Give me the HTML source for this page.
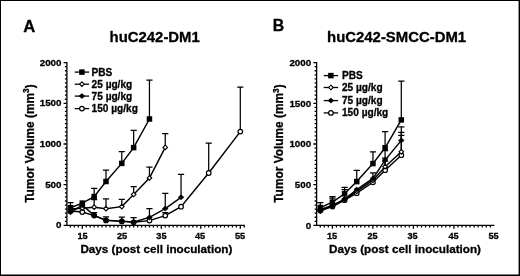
<!DOCTYPE html>
<html><head><meta charset="utf-8"><title>Figure</title>
<style>html,body{margin:0;padding:0;background:#fff;}body{width:520px;height:276px;overflow:hidden}svg{display:block}text{stroke:#000;stroke-width:0.3px;stroke-linejoin:round}</style>
</head><body>
<svg width="520" height="276" viewBox="0 0 520 276" font-family="'Liberation Sans', Arial, sans-serif" font-weight="bold" fill="#000" stroke="none">
<rect x="0" y="0" width="520" height="276" fill="#fff"/>
<path d="M0 0H520V276H0ZM1 1V274.6H518.6V1Z" fill="#000" fill-rule="evenodd"/>
<text x="23.2" y="31.6" font-size="16.6">A</text>
<text x="272.7" y="31.2" font-size="15.8">B</text>
<text x="154.7" y="42" font-size="14.9" text-anchor="middle">huC242-DM1</text>
<text x="396.6" y="42.2" font-size="14.9" text-anchor="middle">huC242-SMCC-DM1</text>
<text transform="translate(33.5 143.5) rotate(-90)" font-size="11.9" text-anchor="middle">Tumor Volume (mm<tspan font-size="8.4" dy="-4.6">3</tspan><tspan dy="4.6">)</tspan></text>
<text transform="translate(283.3 143.5) rotate(-90)" font-size="11.9" text-anchor="middle">Tumor Volume (mm<tspan font-size="8.4" dy="-4.6">3</tspan><tspan dy="4.6">)</tspan></text>
<text x="156.4" y="253.25" font-size="11.7" text-anchor="middle">Days (post cell inoculation)</text>
<text x="405" y="253.25" font-size="11.7" text-anchor="middle">Days (post cell inoculation)</text>
<g>
<path d="M66.9 62V226.05M66.25 225.4H244.9" fill="none" stroke="#000" stroke-width="1.3"/>
<path d="M66.9 225.4h-3.3M66.9 221.33h-2M66.9 217.26h-2M66.9 213.19h-2M66.9 209.12h-2M66.9 205.05h-2M66.9 200.98h-2M66.9 196.91h-2M66.9 192.84h-2M66.9 188.77h-2M66.9 184.7h-3.3M66.9 180.63h-2M66.9 176.56h-2M66.9 172.49h-2M66.9 168.42h-2M66.9 164.35h-2M66.9 160.28h-2M66.9 156.21h-2M66.9 152.14h-2M66.9 148.07h-2M66.9 144h-3.3M66.9 139.93h-2M66.9 135.86h-2M66.9 131.79h-2M66.9 127.72h-2M66.9 123.65h-2M66.9 119.58h-2M66.9 115.51h-2M66.9 111.44h-2M66.9 107.37h-2M66.9 103.3h-3.3M66.9 99.23h-2M66.9 95.16h-2M66.9 91.09h-2M66.9 87.02h-2M66.9 82.95h-2M66.9 78.88h-2M66.9 74.81h-2M66.9 70.74h-2M66.9 66.67h-2M66.9 62.6h-3.3" fill="none" stroke="#000" stroke-width="1.3"/>
<path d="M70.45 225.4v2.1M74.4 225.4v2.1M78.35 225.4v2.1M82.3 225.4v3.3M86.25 225.4v2.1M90.2 225.4v2.1M94.15 225.4v2.1M98.1 225.4v2.1M102.05 225.4v2.1M106 225.4v2.1M109.95 225.4v2.1M113.9 225.4v2.1M117.85 225.4v2.1M121.8 225.4v3.3M125.75 225.4v2.1M129.7 225.4v2.1M133.65 225.4v2.1M137.6 225.4v2.1M141.55 225.4v2.1M145.5 225.4v2.1M149.45 225.4v2.1M153.4 225.4v2.1M157.35 225.4v2.1M161.3 225.4v3.3M165.25 225.4v2.1M169.2 225.4v2.1M173.15 225.4v2.1M177.1 225.4v2.1M181.05 225.4v2.1M185 225.4v2.1M188.95 225.4v2.1M192.9 225.4v2.1M196.85 225.4v2.1M200.8 225.4v3.3M204.75 225.4v2.1M208.7 225.4v2.1M212.65 225.4v2.1M216.6 225.4v2.1M220.55 225.4v2.1M224.5 225.4v2.1M228.45 225.4v2.1M232.4 225.4v2.1M236.35 225.4v2.1M240.3 225.4v3.3M244.25 225.4v2.1" fill="none" stroke="#000" stroke-width="1.3"/>
<text x="61.5" y="228.4" text-anchor="end" font-size="9.8">0</text>
<text x="61.5" y="187.7" text-anchor="end" font-size="9.8">500</text>
<text x="61.5" y="147" text-anchor="end" font-size="9.8">1000</text>
<text x="61.5" y="106.3" text-anchor="end" font-size="9.8">1500</text>
<text x="61.5" y="65.6" text-anchor="end" font-size="9.8">2000</text>
<text x="82.5" y="238.7" text-anchor="middle" font-size="9.2">15</text>
<text x="122" y="238.7" text-anchor="middle" font-size="9.2">25</text>
<text x="161.4" y="238.7" text-anchor="middle" font-size="9.2">35</text>
<text x="200.1" y="238.7" text-anchor="middle" font-size="9.2">45</text>
<text x="240" y="238.7" text-anchor="middle" font-size="9.2">55</text>
<path d="M165.25 215.6V212.6M162.15 212.6H168.35" fill="none" stroke="#000" stroke-width="1.25"/>
<path d="M208.7 173V143M205.6 143H211.8" fill="none" stroke="#000" stroke-width="1.25"/>
<path d="M240.3 131.6V87M237.2 87H243.4" fill="none" stroke="#000" stroke-width="1.25"/>
<path d="M70.45 211L82.3 212L94.15 215.6L106 220.4L121.8 221.4L133.65 222.3L149.45 220.6L165.25 215.6L181.05 206.7L208.7 173L240.3 131.6" fill="none" stroke="#000" stroke-width="1.45"/>
<circle cx="70.45" cy="211" r="2.3" fill="#fff" stroke="#000" stroke-width="1.2"/>
<circle cx="82.3" cy="212" r="2.3" fill="#fff" stroke="#000" stroke-width="1.2"/>
<circle cx="94.15" cy="215.6" r="2.3" fill="#fff" stroke="#000" stroke-width="1.2"/>
<circle cx="106" cy="220.4" r="2.3" fill="#fff" stroke="#000" stroke-width="1.2"/>
<circle cx="121.8" cy="221.4" r="2.3" fill="#fff" stroke="#000" stroke-width="1.2"/>
<circle cx="133.65" cy="222.3" r="2.3" fill="#fff" stroke="#000" stroke-width="1.2"/>
<circle cx="149.45" cy="220.6" r="2.3" fill="#fff" stroke="#000" stroke-width="1.2"/>
<circle cx="165.25" cy="215.6" r="2.3" fill="#fff" stroke="#000" stroke-width="1.2"/>
<circle cx="181.05" cy="206.7" r="2.3" fill="#fff" stroke="#000" stroke-width="1.2"/>
<circle cx="208.7" cy="173" r="2.3" fill="#fff" stroke="#000" stroke-width="1.2"/>
<circle cx="240.3" cy="131.6" r="2.3" fill="#fff" stroke="#000" stroke-width="1.2"/>
<path d="M94.15 207.2V199.5M91.05 199.5H97.25" fill="none" stroke="#000" stroke-width="1.25"/>
<path d="M106 208.7V198.8M102.9 198.8H109.1" fill="none" stroke="#000" stroke-width="1.25"/>
<path d="M121.8 206.6V199.3M118.7 199.3H124.9" fill="none" stroke="#000" stroke-width="1.25"/>
<path d="M133.65 194.5V186.6M130.55 186.6H136.75" fill="none" stroke="#000" stroke-width="1.25"/>
<path d="M149.45 178V167M146.35 167H152.55" fill="none" stroke="#000" stroke-width="1.25"/>
<path d="M165.25 147.4V133.6M162.15 133.6H168.35" fill="none" stroke="#000" stroke-width="1.25"/>
<path d="M70.45 209L82.3 208.2L94.15 207.2L106 208.7L121.8 206.6L133.65 194.5L149.45 178L165.25 147.4" fill="none" stroke="#000" stroke-width="1.45"/>
<path d="M70.45 206.7L72.75 209L70.45 211.3L68.15 209Z" fill="#fff" stroke="#000" stroke-width="1.1"/>
<path d="M82.3 205.9L84.6 208.2L82.3 210.5L80 208.2Z" fill="#fff" stroke="#000" stroke-width="1.1"/>
<path d="M94.15 204.9L96.45 207.2L94.15 209.5L91.85 207.2Z" fill="#fff" stroke="#000" stroke-width="1.1"/>
<path d="M106 206.4L108.3 208.7L106 211L103.7 208.7Z" fill="#fff" stroke="#000" stroke-width="1.1"/>
<path d="M121.8 204.3L124.1 206.6L121.8 208.9L119.5 206.6Z" fill="#fff" stroke="#000" stroke-width="1.1"/>
<path d="M133.65 192.2L135.95 194.5L133.65 196.8L131.35 194.5Z" fill="#fff" stroke="#000" stroke-width="1.1"/>
<path d="M149.45 175.7L151.75 178L149.45 180.3L147.15 178Z" fill="#fff" stroke="#000" stroke-width="1.1"/>
<path d="M165.25 145.1L167.55 147.4L165.25 149.7L162.95 147.4Z" fill="#fff" stroke="#000" stroke-width="1.1"/>
<path d="M94.15 215.3V212.6M91.05 212.6H97.25" fill="none" stroke="#000" stroke-width="1.25"/>
<path d="M106 220.3V216.8M102.9 216.8H109.1" fill="none" stroke="#000" stroke-width="1.25"/>
<path d="M121.8 221.1V217.1M118.7 217.1H124.9" fill="none" stroke="#000" stroke-width="1.25"/>
<path d="M133.65 222V217.6M130.55 217.6H136.75" fill="none" stroke="#000" stroke-width="1.25"/>
<path d="M149.45 217.4V208.7M146.35 208.7H152.55" fill="none" stroke="#000" stroke-width="1.25"/>
<path d="M165.25 208.6V193.3M162.15 193.3H168.35" fill="none" stroke="#000" stroke-width="1.25"/>
<path d="M181.05 197.3V174.3M177.95 174.3H184.15" fill="none" stroke="#000" stroke-width="1.25"/>
<path d="M70.45 212.3L82.3 205.2L94.15 215.3L106 220.3L121.8 221.1L133.65 222L149.45 217.4L165.25 208.6L181.05 197.3" fill="none" stroke="#000" stroke-width="1.45"/>
<path d="M70.45 209.8L73.35 212.3L70.45 214.8L67.55 212.3Z" fill="#000" stroke="#000" stroke-width="0.6"/>
<path d="M82.3 202.7L85.2 205.2L82.3 207.7L79.4 205.2Z" fill="#000" stroke="#000" stroke-width="0.6"/>
<path d="M94.15 212.8L97.05 215.3L94.15 217.8L91.25 215.3Z" fill="#000" stroke="#000" stroke-width="0.6"/>
<path d="M106 217.8L108.9 220.3L106 222.8L103.1 220.3Z" fill="#000" stroke="#000" stroke-width="0.6"/>
<path d="M121.8 218.6L124.7 221.1L121.8 223.6L118.9 221.1Z" fill="#000" stroke="#000" stroke-width="0.6"/>
<path d="M133.65 219.5L136.55 222L133.65 224.5L130.75 222Z" fill="#000" stroke="#000" stroke-width="0.6"/>
<path d="M149.45 214.9L152.35 217.4L149.45 219.9L146.55 217.4Z" fill="#000" stroke="#000" stroke-width="0.6"/>
<path d="M165.25 206.1L168.15 208.6L165.25 211.1L162.35 208.6Z" fill="#000" stroke="#000" stroke-width="0.6"/>
<path d="M181.05 194.8L183.95 197.3L181.05 199.8L178.15 197.3Z" fill="#000" stroke="#000" stroke-width="0.6"/>
<path d="M70.45 207.7V202.5M67.35 202.5H73.55" fill="none" stroke="#000" stroke-width="1.25"/>
<path d="M94.15 196.6V188.4M91.05 188.4H97.25" fill="none" stroke="#000" stroke-width="1.25"/>
<path d="M106 181.5V170M102.9 170H109.1" fill="none" stroke="#000" stroke-width="1.25"/>
<path d="M121.8 163.4V151.6M118.7 151.6H124.9" fill="none" stroke="#000" stroke-width="1.25"/>
<path d="M133.65 147.6V130.4M130.55 130.4H136.75" fill="none" stroke="#000" stroke-width="1.25"/>
<path d="M149.45 119V80M146.35 80H152.55" fill="none" stroke="#000" stroke-width="1.25"/>
<path d="M70.45 207.7L82.3 203.1L94.15 196.6L106 181.5L121.8 163.4L133.65 147.6L149.45 119" fill="none" stroke="#000" stroke-width="1.45"/>
<rect x="67.7" y="204.95" width="5.5" height="5.5" fill="#000"/>
<rect x="79.55" y="200.35" width="5.5" height="5.5" fill="#000"/>
<rect x="91.4" y="193.85" width="5.5" height="5.5" fill="#000"/>
<rect x="103.25" y="178.75" width="5.5" height="5.5" fill="#000"/>
<rect x="119.05" y="160.65" width="5.5" height="5.5" fill="#000"/>
<rect x="130.9" y="144.85" width="5.5" height="5.5" fill="#000"/>
<rect x="146.7" y="116.25" width="5.5" height="5.5" fill="#000"/>
<path d="M74.7 72.1H89.1" stroke="#000" stroke-width="1.3"/>
<rect x="79.15" y="69.35" width="5.5" height="5.5" fill="#000"/>
<text x="91.6" y="75.5" font-size="10.1">PBS</text>
<path d="M74.7 84.2H89.1" stroke="#000" stroke-width="1.3"/>
<path d="M81.9 81.9L84.2 84.2L81.9 86.5L79.6 84.2Z" fill="#fff" stroke="#000" stroke-width="1.1"/>
<text x="91.6" y="87.6" font-size="10.1">25 µg/kg</text>
<path d="M74.7 96.1H89.1" stroke="#000" stroke-width="1.3"/>
<path d="M81.9 93.6L84.8 96.1L81.9 98.6L79 96.1Z" fill="#000" stroke="#000" stroke-width="0.6"/>
<text x="91.6" y="99.5" font-size="10.1">75 µg/kg</text>
<path d="M74.7 108.6H89.1" stroke="#000" stroke-width="1.3"/>
<circle cx="81.9" cy="108.6" r="2.3" fill="#fff" stroke="#000" stroke-width="1.2"/>
<text x="91.6" y="112" font-size="10.1">150 µg/kg</text>
</g>
<g>
<path d="M316.6 62V226.05M315.95 225.4H494.4" fill="none" stroke="#000" stroke-width="1.3"/>
<path d="M316.6 225.4h-3.3M316.6 221.33h-2M316.6 217.26h-2M316.6 213.19h-2M316.6 209.12h-2M316.6 205.05h-2M316.6 200.98h-2M316.6 196.91h-2M316.6 192.84h-2M316.6 188.77h-2M316.6 184.7h-3.3M316.6 180.63h-2M316.6 176.56h-2M316.6 172.49h-2M316.6 168.42h-2M316.6 164.35h-2M316.6 160.28h-2M316.6 156.21h-2M316.6 152.14h-2M316.6 148.07h-2M316.6 144h-3.3M316.6 139.93h-2M316.6 135.86h-2M316.6 131.79h-2M316.6 127.72h-2M316.6 123.65h-2M316.6 119.58h-2M316.6 115.51h-2M316.6 111.44h-2M316.6 107.37h-2M316.6 103.3h-3.3M316.6 99.23h-2M316.6 95.16h-2M316.6 91.09h-2M316.6 87.02h-2M316.6 82.95h-2M316.6 78.88h-2M316.6 74.81h-2M316.6 70.74h-2M316.6 66.67h-2M316.6 62.6h-3.3" fill="none" stroke="#000" stroke-width="1.3"/>
<path d="M320.25 225.4v2.1M324.3 225.4v2.1M328.35 225.4v2.1M332.4 225.4v3.3M336.45 225.4v2.1M340.5 225.4v2.1M344.55 225.4v2.1M348.6 225.4v2.1M352.65 225.4v2.1M356.7 225.4v2.1M360.75 225.4v2.1M364.8 225.4v2.1M368.85 225.4v2.1M372.9 225.4v3.3M376.95 225.4v2.1M381 225.4v2.1M385.05 225.4v2.1M389.1 225.4v2.1M393.15 225.4v2.1M397.2 225.4v2.1M401.25 225.4v2.1M405.3 225.4v2.1M409.35 225.4v2.1M413.4 225.4v3.3M417.45 225.4v2.1M421.5 225.4v2.1M425.55 225.4v2.1M429.6 225.4v2.1M433.65 225.4v2.1M437.7 225.4v2.1M441.75 225.4v2.1M445.8 225.4v2.1M449.85 225.4v2.1M453.9 225.4v3.3M457.95 225.4v2.1M462 225.4v2.1M466.05 225.4v2.1M470.1 225.4v2.1M474.15 225.4v2.1M478.2 225.4v2.1M482.25 225.4v2.1M486.3 225.4v2.1M490.35 225.4v2.1" fill="none" stroke="#000" stroke-width="1.3"/>
<text x="311.2" y="228.6" text-anchor="end" font-size="9.8">0</text>
<text x="311.2" y="187.9" text-anchor="end" font-size="9.8">500</text>
<text x="311.2" y="147.2" text-anchor="end" font-size="9.8">1000</text>
<text x="311.2" y="106.5" text-anchor="end" font-size="9.8">1500</text>
<text x="311.2" y="65.8" text-anchor="end" font-size="9.8">2000</text>
<text x="332" y="238.7" text-anchor="middle" font-size="9.2">15</text>
<text x="372.5" y="238.7" text-anchor="middle" font-size="9.2">25</text>
<text x="412.5" y="238.7" text-anchor="middle" font-size="9.2">35</text>
<text x="453.5" y="238.7" text-anchor="middle" font-size="9.2">45</text>
<text x="493.5" y="238.7" text-anchor="middle" font-size="9.2">55</text>
<path d="M385.1 170.2V161M382 161H388.2" fill="none" stroke="#000" stroke-width="1.25"/>
<path d="M401.3 155.2V135.3M398.2 135.3H404.4" fill="none" stroke="#000" stroke-width="1.25"/>
<path d="M320.3 210.5L332.45 206.6L344.6 200.2L356.75 193.2L372.95 182.3L385.1 170.2L401.3 155.2" fill="none" stroke="#000" stroke-width="1.45"/>
<circle cx="320.3" cy="210.5" r="2.3" fill="#fff" stroke="#000" stroke-width="1.2"/>
<circle cx="332.45" cy="206.6" r="2.3" fill="#fff" stroke="#000" stroke-width="1.2"/>
<circle cx="344.6" cy="200.2" r="2.3" fill="#fff" stroke="#000" stroke-width="1.2"/>
<circle cx="356.75" cy="193.2" r="2.3" fill="#fff" stroke="#000" stroke-width="1.2"/>
<circle cx="372.95" cy="182.3" r="2.3" fill="#fff" stroke="#000" stroke-width="1.2"/>
<circle cx="385.1" cy="170.2" r="2.3" fill="#fff" stroke="#000" stroke-width="1.2"/>
<circle cx="401.3" cy="155.2" r="2.3" fill="#fff" stroke="#000" stroke-width="1.2"/>
<path d="M385.1 166.7V158M382 158H388.2" fill="none" stroke="#000" stroke-width="1.25"/>
<path d="M401.3 151.8V132.3M398.2 132.3H404.4" fill="none" stroke="#000" stroke-width="1.25"/>
<path d="M320.3 209.5L332.45 205.5L344.6 199.5L356.75 191.4L372.95 180.2L385.1 166.7L401.3 151.8" fill="none" stroke="#000" stroke-width="1.45"/>
<path d="M320.3 207.2L322.6 209.5L320.3 211.8L318 209.5Z" fill="#fff" stroke="#000" stroke-width="1.1"/>
<path d="M332.45 203.2L334.75 205.5L332.45 207.8L330.15 205.5Z" fill="#fff" stroke="#000" stroke-width="1.1"/>
<path d="M344.6 197.2L346.9 199.5L344.6 201.8L342.3 199.5Z" fill="#fff" stroke="#000" stroke-width="1.1"/>
<path d="M356.75 189.1L359.05 191.4L356.75 193.7L354.45 191.4Z" fill="#fff" stroke="#000" stroke-width="1.1"/>
<path d="M372.95 177.9L375.25 180.2L372.95 182.5L370.65 180.2Z" fill="#fff" stroke="#000" stroke-width="1.1"/>
<path d="M385.1 164.4L387.4 166.7L385.1 169L382.8 166.7Z" fill="#fff" stroke="#000" stroke-width="1.1"/>
<path d="M401.3 149.5L403.6 151.8L401.3 154.1L399 151.8Z" fill="#fff" stroke="#000" stroke-width="1.1"/>
<path d="M332.45 205.9V198.2M329.35 198.2H335.55" fill="none" stroke="#000" stroke-width="1.25"/>
<path d="M344.6 199.1V189.6M341.5 189.6H347.7" fill="none" stroke="#000" stroke-width="1.25"/>
<path d="M372.95 178.4V172.8M369.85 172.8H376.05" fill="none" stroke="#000" stroke-width="1.25"/>
<path d="M385.1 160.1V150.5M382 150.5H388.2" fill="none" stroke="#000" stroke-width="1.25"/>
<path d="M401.3 140.4V126.9M398.2 126.9H404.4" fill="none" stroke="#000" stroke-width="1.25"/>
<path d="M320.3 211.2L332.45 205.9L344.6 199.1L356.75 189.6L372.95 178.4L385.1 160.1L401.3 140.4" fill="none" stroke="#000" stroke-width="1.45"/>
<path d="M320.3 208.7L323.2 211.2L320.3 213.7L317.4 211.2Z" fill="#000" stroke="#000" stroke-width="0.6"/>
<path d="M332.45 203.4L335.35 205.9L332.45 208.4L329.55 205.9Z" fill="#000" stroke="#000" stroke-width="0.6"/>
<path d="M344.6 196.6L347.5 199.1L344.6 201.6L341.7 199.1Z" fill="#000" stroke="#000" stroke-width="0.6"/>
<path d="M356.75 187.1L359.65 189.6L356.75 192.1L353.85 189.6Z" fill="#000" stroke="#000" stroke-width="0.6"/>
<path d="M372.95 175.9L375.85 178.4L372.95 180.9L370.05 178.4Z" fill="#000" stroke="#000" stroke-width="0.6"/>
<path d="M385.1 157.6L388 160.1L385.1 162.6L382.2 160.1Z" fill="#000" stroke="#000" stroke-width="0.6"/>
<path d="M401.3 137.9L404.2 140.4L401.3 142.9L398.4 140.4Z" fill="#000" stroke="#000" stroke-width="0.6"/>
<path d="M320.3 207.6V202.6M317.2 202.6H323.4" fill="none" stroke="#000" stroke-width="1.25"/>
<path d="M332.45 202.1V196.6M329.35 196.6H335.55" fill="none" stroke="#000" stroke-width="1.25"/>
<path d="M344.6 193.8V187.4M341.5 187.4H347.7" fill="none" stroke="#000" stroke-width="1.25"/>
<path d="M356.75 181.6V170.4M353.65 170.4H359.85" fill="none" stroke="#000" stroke-width="1.25"/>
<path d="M372.95 163.6V151.8M369.85 151.8H376.05" fill="none" stroke="#000" stroke-width="1.25"/>
<path d="M385.1 147.8V131.6M382 131.6H388.2" fill="none" stroke="#000" stroke-width="1.25"/>
<path d="M401.3 119.9V81M398.2 81H404.4" fill="none" stroke="#000" stroke-width="1.25"/>
<path d="M320.3 207.6L332.45 202.1L344.6 193.8L356.75 181.6L372.95 163.6L385.1 147.8L401.3 119.9" fill="none" stroke="#000" stroke-width="1.45"/>
<rect x="317.55" y="204.85" width="5.5" height="5.5" fill="#000"/>
<rect x="329.7" y="199.35" width="5.5" height="5.5" fill="#000"/>
<rect x="341.85" y="191.05" width="5.5" height="5.5" fill="#000"/>
<rect x="354" y="178.85" width="5.5" height="5.5" fill="#000"/>
<rect x="370.2" y="160.85" width="5.5" height="5.5" fill="#000"/>
<rect x="382.35" y="145.05" width="5.5" height="5.5" fill="#000"/>
<rect x="398.55" y="117.15" width="5.5" height="5.5" fill="#000"/>
<path d="M323.7 75.6H338.1" stroke="#000" stroke-width="1.3"/>
<rect x="328.15" y="72.85" width="5.5" height="5.5" fill="#000"/>
<text x="342" y="79" font-size="10.1">PBS</text>
<path d="M323.7 87.5H338.1" stroke="#000" stroke-width="1.3"/>
<path d="M330.9 85.2L333.2 87.5L330.9 89.8L328.6 87.5Z" fill="#fff" stroke="#000" stroke-width="1.1"/>
<text x="342" y="90.9" font-size="10.1">25 µg/kg</text>
<path d="M323.7 100.6H338.1" stroke="#000" stroke-width="1.3"/>
<path d="M330.9 98.1L333.8 100.6L330.9 103.1L328 100.6Z" fill="#000" stroke="#000" stroke-width="0.6"/>
<text x="342" y="104" font-size="10.1">75 µg/kg</text>
<path d="M323.7 112.9H338.1" stroke="#000" stroke-width="1.3"/>
<circle cx="330.9" cy="112.9" r="2.3" fill="#fff" stroke="#000" stroke-width="1.2"/>
<text x="342" y="116.3" font-size="10.1">150 µg/kg</text>
</g>
</svg>
</body></html>
